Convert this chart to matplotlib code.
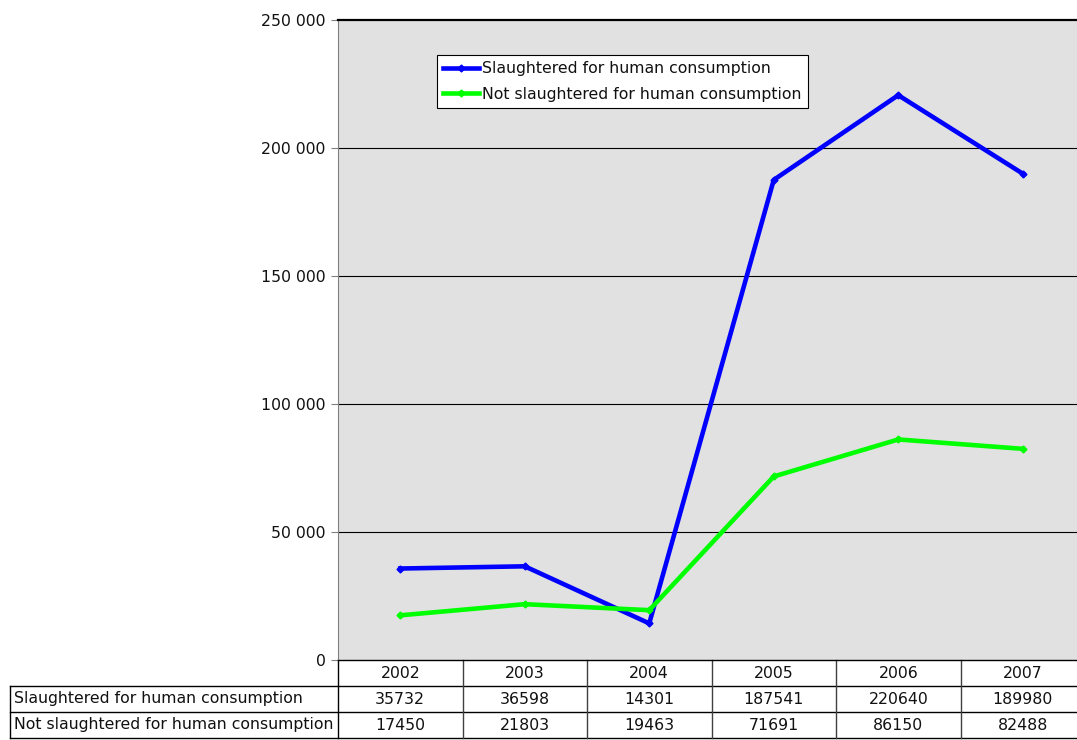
import numpy as np
import matplotlib.pyplot as plt
import matplotlib.transforms as mtrans

years = ['2002', '2003', '2004', '2005', '2006', '2007']
slaughtered = [35732, 36598, 14301, 187541, 220640, 189980]
not_slaughtered = [17450, 21803, 19463, 71691, 86150, 82488]
series_names = ['Slaughtered for human consumption',
                'Not slaughtered for human consumption']
y_ticks = [0, 50000, 100000, 150000, 200000, 250000]

plt.rcParams['font.family'] = 'DejaVu Sans'
plt.rcParams['font.size'] = 11.3
plt.rcParams['text.color'] = '#111111'

W, H = 1077, 740
fig = plt.figure(figsize=(W / 100, H / 100), dpi=100)
# plot area runs slightly past the right edge of the image
ax = fig.add_axes([338 / W, 80 / H, 747 / W, 640 / H])
ax.set_facecolor('#e1e1e1')

x = np.arange(len(years))
ax.plot(x, slaughtered, color='#0000ff', lw=3.3, marker='D', ms=3.5,
        label=series_names[0], zorder=3)
ax.plot(x, not_slaughtered, color='#00ff00', lw=3.3, marker='D', ms=3.5,
        label=series_names[1], zorder=3)

ax.set_xlim(-0.5, len(years) - 0.5)
ax.set_ylim(0, 250000)
ax.set_yticks(y_ticks)
ax.set_yticklabels([f'{v:,}'.replace(',', ' ') for v in y_ticks])
ax.set_xticks([])
ax.tick_params(axis='y', length=5, color='#808080', pad=4,
               labelsize=11.3, labelcolor='#111111')
for v in y_ticks[1:-1]:
    ax.axhline(v, color='black', lw=0.8, zorder=1)

ax.spines['top'].set_linewidth(1.6)
ax.spines['left'].set_color('#808080')
ax.spines['right'].set_visible(False)
ax.spines['bottom'].set_linewidth(1.0)

leg = ax.legend(loc='upper left', bbox_to_anchor=(0.1325, 0.945),
                borderaxespad=0, fancybox=False, framealpha=1,
                edgecolor='black', handlelength=2.3, handletextpad=0.2,
                borderpad=0.4, labelspacing=0.65)
leg.get_frame().set_linewidth(0.8)

# data table under the plot
tr = mtrans.blended_transform_factory(ax.transData, ax.transAxes)
row_y = [0, -26 / 640, -52 / 640, -78 / 640]
label_x = (10 - 338) / 747

for i, yr in enumerate(years):
    ax.text(i, (row_y[0] + row_y[1]) / 2, yr, transform=tr,
            ha='center', va='center', clip_on=False)
    ax.text(i, (row_y[1] + row_y[2]) / 2, str(slaughtered[i]), transform=tr,
            ha='center', va='center', clip_on=False)
    ax.text(i, (row_y[2] + row_y[3]) / 2, str(not_slaughtered[i]), transform=tr,
            ha='center', va='center', clip_on=False)

for r, name in enumerate(series_names):
    ax.text(label_x + 4 / 747, (row_y[r + 1] + row_y[r + 2]) / 2, name,
            transform=ax.transAxes, ha='left', va='center', clip_on=False)

line_kw = dict(color='black', lw=1, clip_on=False)
for yy in row_y[1:]:
    ax.plot([label_x, 1], [yy, yy], transform=ax.transAxes, **line_kw)
ax.plot([label_x, label_x], [row_y[1], row_y[3]], transform=ax.transAxes, **line_kw)
ax.plot([0, 0], [row_y[0], row_y[3]], transform=ax.transAxes, **line_kw)
for b in np.arange(0.5, len(years) - 0.5, 1):
    ax.plot([b, b], [row_y[0], row_y[3]], transform=tr,
            color='#404040', lw=1, clip_on=False)

fig.savefig('out.png', dpi=100)
